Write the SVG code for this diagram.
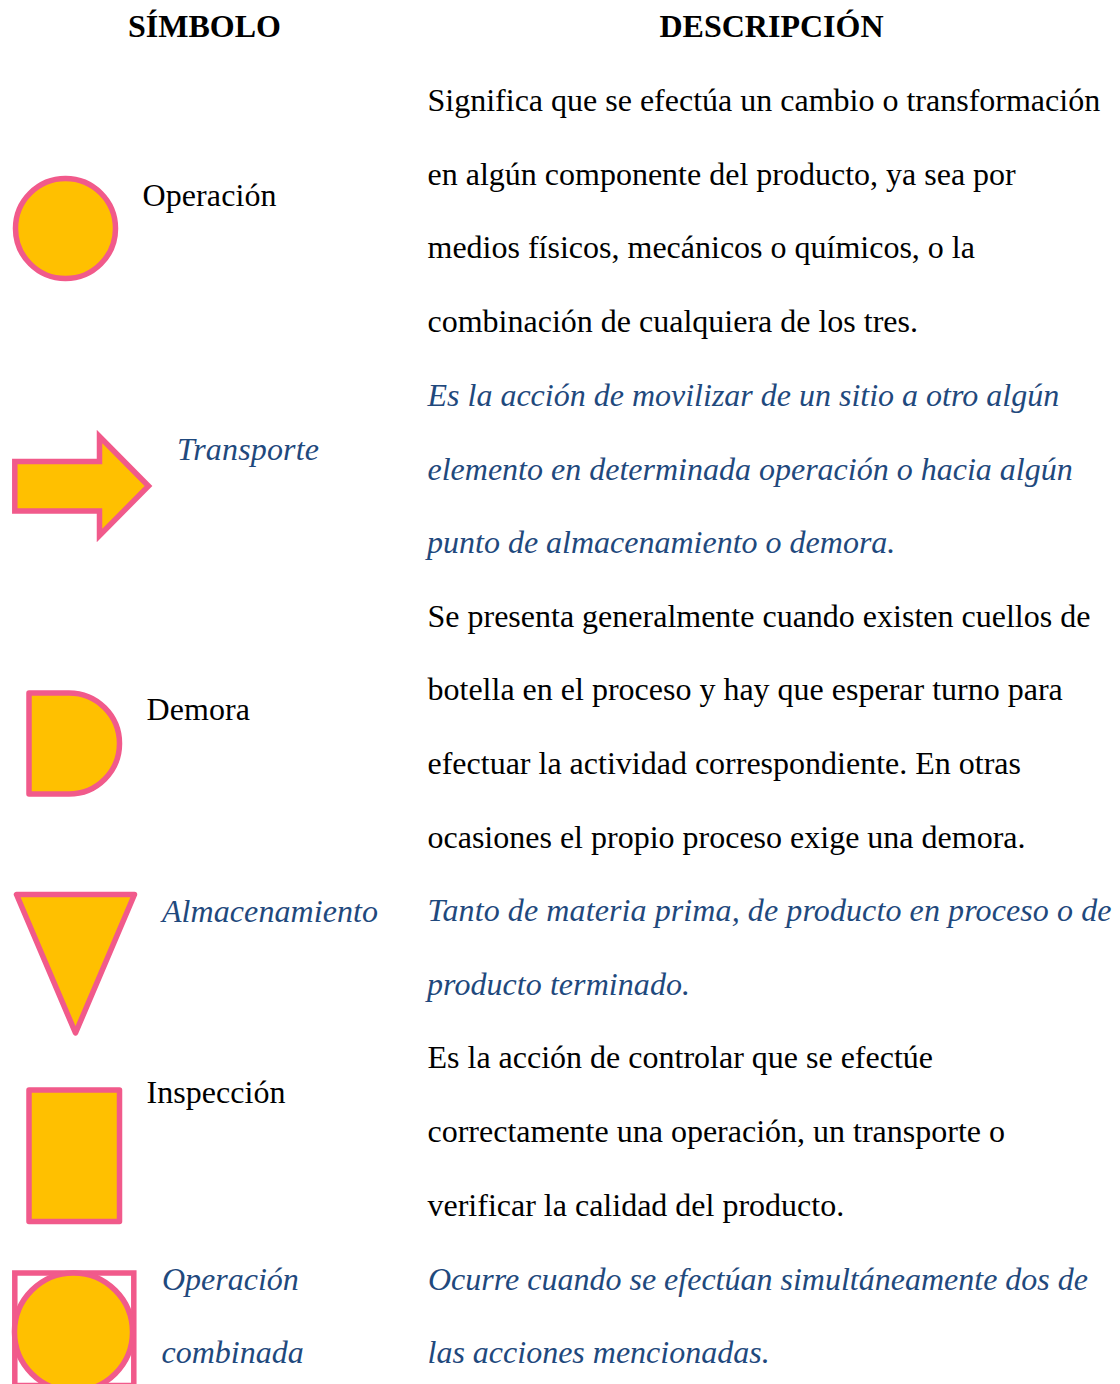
<svg xmlns="http://www.w3.org/2000/svg" width="1120" height="1384" viewBox="0 0 1120 1384">
<style>
text{font-family:"Liberation Serif","Times New Roman",serif;font-size:32px;fill:#000}
.h{font-weight:bold}
.i{font-style:italic;fill:#1F497D}
.s{fill:#FFC000;stroke:#F15A8B;stroke-width:5.5}
</style>
<rect width="1120" height="1384" fill="#fff"/>
<g id="headers"><text class="h" x="128" y="37" textLength="153">SÍMBOLO</text><text class="h" x="659.500" y="37">DESCRIPCIÓN</text></g>
<g id="operacion"><circle class="s" cx="65.500" cy="228.500" r="50"/><text x="142.500" y="206" textLength="134">Operación</text></g>
<g id="transporte"><path class="s" d="M14.800 461.500H99.500V436.500L148.500 486 99.500 535.500V511H14.800Z"/><text class="i" x="177" y="459.500" textLength="142">Transporte</text></g>
<g id="demora"><path class="s" stroke-linejoin="round" d="M29 693H69A50.500 50.500 0 0 1 69 794H29Z"/><text x="146.500" y="720" textLength="103.500">Demora</text></g>
<g id="almacenamiento"><path class="s" stroke-linejoin="round" d="M16.500 894.500H134.500L75.500 1033Z"/><text class="i" x="162" y="922" textLength="216">Almacenamiento</text></g>
<g id="inspeccion"><rect class="s" stroke-linejoin="round" x="29" y="1090" width="90.500" height="131.500"/><text x="146.500" y="1103" textLength="139">Inspección</text></g>
<g id="combinada"><rect x="14.800" y="1273" width="119" height="112.500" fill="none" stroke="#F15A8B" stroke-width="5.500"/><circle class="s" cx="73.500" cy="1332" r="59"/><text class="i" x="162" y="1289.500">Operación</text><text class="i" x="161.500" y="1362.500">combinada</text></g>
<g id="descripciones">
<text x="427.500" y="111">Significa que se efectúa un cambio o transformación</text>
<text x="427.500" y="184.500">en algún componente del producto, ya sea por</text>
<text x="427.500" y="258">medios físicos, mecánicos o químicos, o la</text>
<text x="427.500" y="332">combinación de cualquiera de los tres.</text>
<text class="i" x="427.500" y="405.500">Es la acción de movilizar de un sitio a otro algún</text>
<text class="i" x="427.500" y="479.500">elemento en determinada operación o hacia algún</text>
<text class="i" x="427" y="553">punto de almacenamiento o demora.</text>
<text x="427.500" y="626.500">Se presenta generalmente cuando existen cuellos de</text>
<text x="427.500" y="700">botella en el proceso y hay que esperar turno para</text>
<text x="427.500" y="773.500">efectuar la actividad correspondiente. En otras</text>
<text x="427.500" y="847.500">ocasiones el propio proceso exige una demora.</text>
<text class="i" x="427.500" y="921" textLength="684">Tanto de materia prima, de producto en proceso o de</text>
<text class="i" x="427" y="994.500" textLength="263">producto terminado.</text>
<text x="427.500" y="1068">Es la acción de controlar que se efectúe</text>
<text x="427.500" y="1142">correctamente una operación, un transporte o</text>
<text x="427.500" y="1215.500">verificar la calidad del producto.</text>
<text class="i" x="428" y="1289.500">Ocurre cuando se efectúan simultáneamente dos de</text>
<text class="i" x="427.500" y="1362.500">las acciones mencionadas.</text>
</g>
</svg>
